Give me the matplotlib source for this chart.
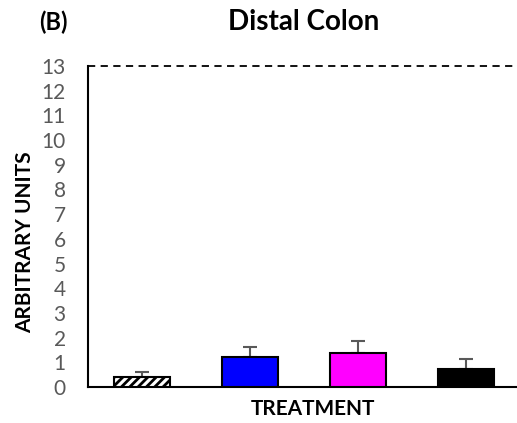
import matplotlib.pyplot as plt
import numpy as np

plt.rcParams['font.family'] = ['Lato', 'DejaVu Sans']
plt.rcParams['hatch.linewidth'] = 2.0

groups = ["Control", "Treatment 1", "Treatment 2", "Treatment 3"]
means = [0.42, 1.20, 1.39, 0.74]
sems = [0.20, 0.43, 0.48, 0.38]
colors = ["white", "#0000ff", "#ff00ff", "black"]
y_ticks = list(range(0, 14))
ceiling = 13

fig = plt.figure(figsize=(5.17, 4.23), dpi=100)
ax = fig.add_axes([0.170, 0.085, 0.830, 0.759])

x = np.arange(len(groups))
bars = ax.bar(x, means, width=0.52, color=colors, edgecolor="black",
              linewidth=1.5, zorder=3)
bars[0].set_hatch("////")
ax.errorbar(x, means, yerr=[np.zeros(len(sems)), sems], fmt="none",
            ecolor="#595959", elinewidth=1.5, capsize=5, capthick=1.5, zorder=2)

# dashed reference line at the top of the scale
ax.axhline(ceiling, color="black", linestyle=(0, (4, 3)), linewidth=1.3, clip_on=False)

ax.set_xlim(-0.5, 3.47)
ax.set_ylim(0, ceiling)
ax.set_yticks(y_ticks)
ax.set_xticks([])
ax.tick_params(axis="y", length=0, labelsize=15, labelcolor="#595959", pad=16)
for s in ["top", "right"]:
    ax.spines[s].set_visible(False)
ax.spines["left"].set_linewidth(1.5)
ax.spines["bottom"].set_linewidth(1.5)

ax.set_ylabel("ARBITRARY UNITS", fontsize=15, fontweight="bold")
ax.yaxis.set_label_coords(-0.122, 0.45)
ax.set_xlabel("TREATMENT", fontsize=15, fontweight="bold")
ax.xaxis.set_label_coords(0.524, -0.038)

fig.text(0.588, 0.948, "Distal Colon", fontsize=20, fontweight="bold", ha="center", va="center")
fig.text(0.104, 0.948, "(B)", fontsize=17, fontweight="bold", ha="center", va="center")

fig.savefig("out.png", dpi=100)
